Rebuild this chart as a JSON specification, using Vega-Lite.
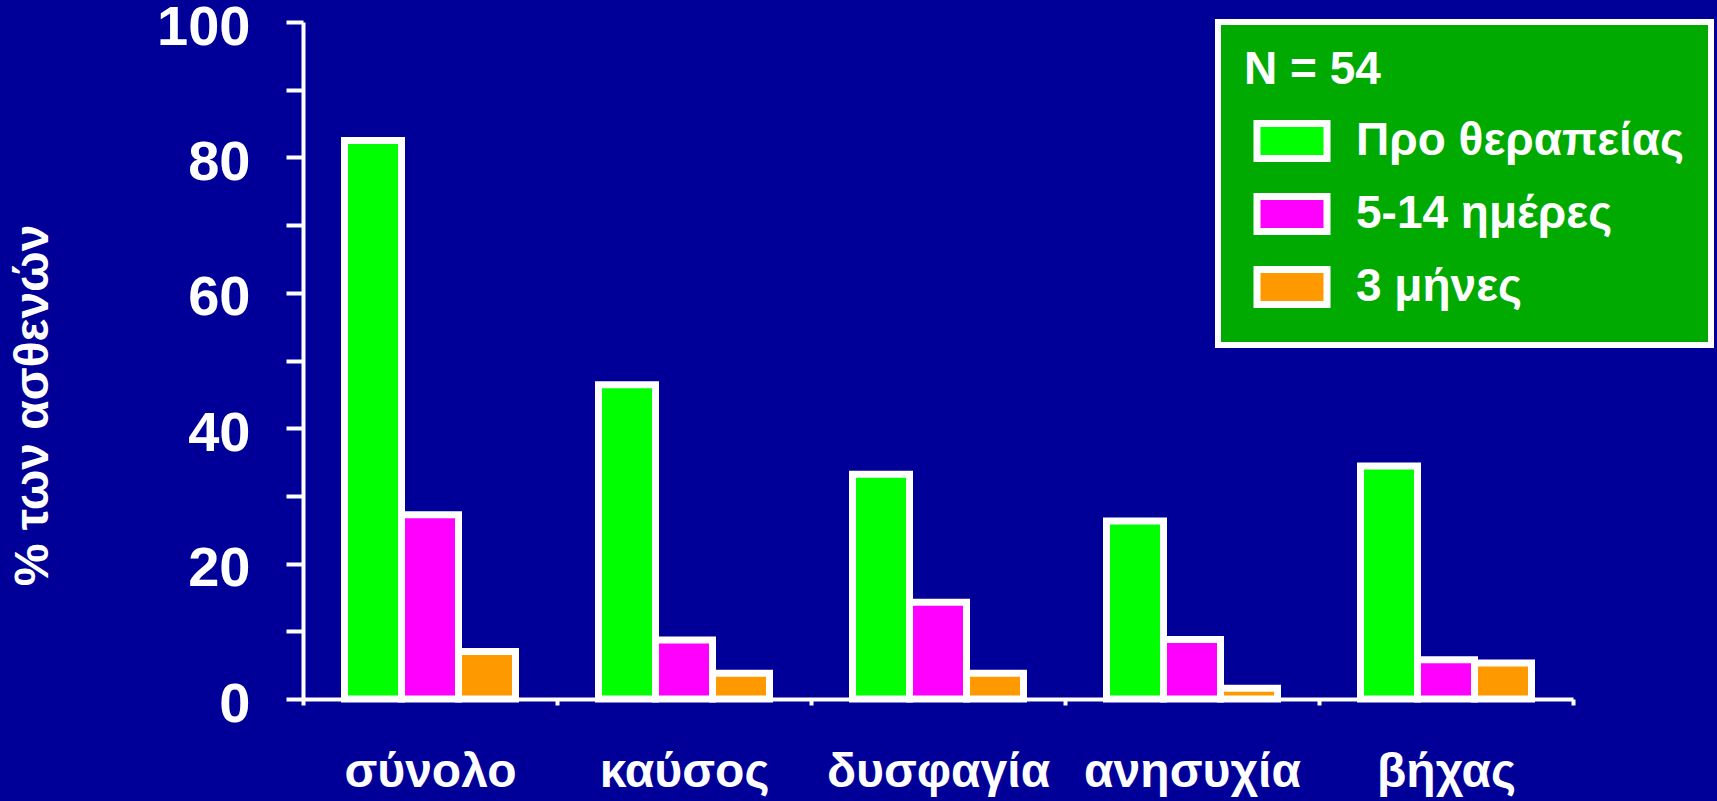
{
  "$schema": "https://vega.github.io/schema/vega-lite/v6.json",
  "width": 1270,
  "height": 677,
  "autosize": {"type": "none"},
  "padding": {"left": 303, "top": 22, "right": 144, "bottom": 102},
  "background": "#000099",
  "config": {"view": {"stroke": null}, "font": "Liberation Sans", "legend": {"strokeWidth": 6}},
  "data": {
    "values": [
      {"symptom": "σύνολο", "time": "Προ θεραπείας", "pct": 82.5},
      {"symptom": "σύνολο", "time": "5-14 ημέρες", "pct": 27.2},
      {"symptom": "σύνολο", "time": "3 μήνες", "pct": 7.0},
      {"symptom": "καύσος", "time": "Προ θεραπείας", "pct": 46.4},
      {"symptom": "καύσος", "time": "5-14 ημέρες", "pct": 8.7},
      {"symptom": "καύσος", "time": "3 μήνες", "pct": 3.8},
      {"symptom": "δυσφαγία", "time": "Προ θεραπείας", "pct": 33.2},
      {"symptom": "δυσφαγία", "time": "5-14 ημέρες", "pct": 14.3},
      {"symptom": "δυσφαγία", "time": "3 μήνες", "pct": 3.8},
      {"symptom": "ανησυχία", "time": "Προ θεραπείας", "pct": 26.3},
      {"symptom": "ανησυχία", "time": "5-14 ημέρες", "pct": 8.8},
      {"symptom": "ανησυχία", "time": "3 μήνες", "pct": 1.6},
      {"symptom": "βήχας", "time": "Προ θεραπείας", "pct": 34.4},
      {"symptom": "βήχας", "time": "5-14 ημέρες", "pct": 5.8},
      {"symptom": "βήχας", "time": "3 μήνες", "pct": 5.3}
    ]
  },
  "mark": {"type": "bar", "stroke": "white", "strokeWidth": 7, "opacity": 1},
  "encoding": {
    "x": {
      "field": "symptom",
      "type": "nominal",
      "sort": ["σύνολο", "καύσος", "δυσφαγία", "ανησυχία", "βήχας"],
      "scale": {"paddingInner": 0, "paddingOuter": 0},
      "title": null,
      "axis": {
        "tickBand": "extent",
        "tickSize": 6,
        "tickWidth": 4,
        "tickColor": "white",
        "domainColor": "white",
        "domainWidth": 4,
        "labelAngle": 0,
        "labelColor": "white",
        "labelFontSize": 48,
        "labelFontWeight": "bold",
        "labelPadding": 43,
        "labelLimit": 400
      }
    },
    "xOffset": {
      "field": "time",
      "sort": ["Προ θεραπείας", "5-14 ημέρες", "3 μήνες"],
      "scale": {"paddingInner": 0, "paddingOuter": 0.728}
    },
    "y": {
      "field": "pct",
      "type": "quantitative",
      "scale": {"domain": [0, 100], "nice": false},
      "title": "% των ασθενών",
      "axis": {
        "values": [0, 10, 20, 30, 40, 50, 60, 70, 80, 90, 100],
        "labelExpr": "datum.value % 20 == 0 ? datum.label : ''",
        "grid": false,
        "tickSize": 17,
        "tickWidth": 4,
        "tickColor": "white",
        "domainColor": "white",
        "domainWidth": 4,
        "labelColor": "white",
        "labelFontSize": 56,
        "labelFontWeight": "bold",
        "labelPadding": 36,
        "labelOffset": 5,
        "titleColor": "white",
        "titleFontSize": 48,
        "titleFontWeight": "bold",
        "titleX": -270,
        "titleY": 383,
        "titleAlign": "center",
        "titleBaseline": "middle"
      }
    },
    "color": {
      "field": "time",
      "type": "nominal",
      "sort": ["Προ θεραπείας", "5-14 ημέρες", "3 μήνες"],
      "scale": {
        "domain": ["Προ θεραπείας", "5-14 ημέρες", "3 μήνες"],
        "range": ["#00ff00", "#ff00ff", "#ff9900"]
      },
      "legend": {
        "orient": "none",
        "legendX": 915,
        "legendY": 0,
        "title": "N = 54",
        "titleColor": "white",
        "titleFontSize": 46,
        "titleFontWeight": "bold",
        "titlePadding": 24,
        "fillColor": "#00aa00",
        "strokeColor": "white",
        "padding": 26,
        "labelColor": "white",
        "labelFontSize": 46,
        "labelFontWeight": "bold",
        "labelLimit": 500,
        "labelOffset": 41,
        "rowPadding": 9,
        "symbolType": "M-2,-1H2V1H-2Z",
        "symbolSize": 1225,
        "symbolOffset": 25,
        "symbolStrokeColor": "white",
        "symbolStrokeWidth": 7,
        "symbolOpacity": 1
      }
    }
  }
}
